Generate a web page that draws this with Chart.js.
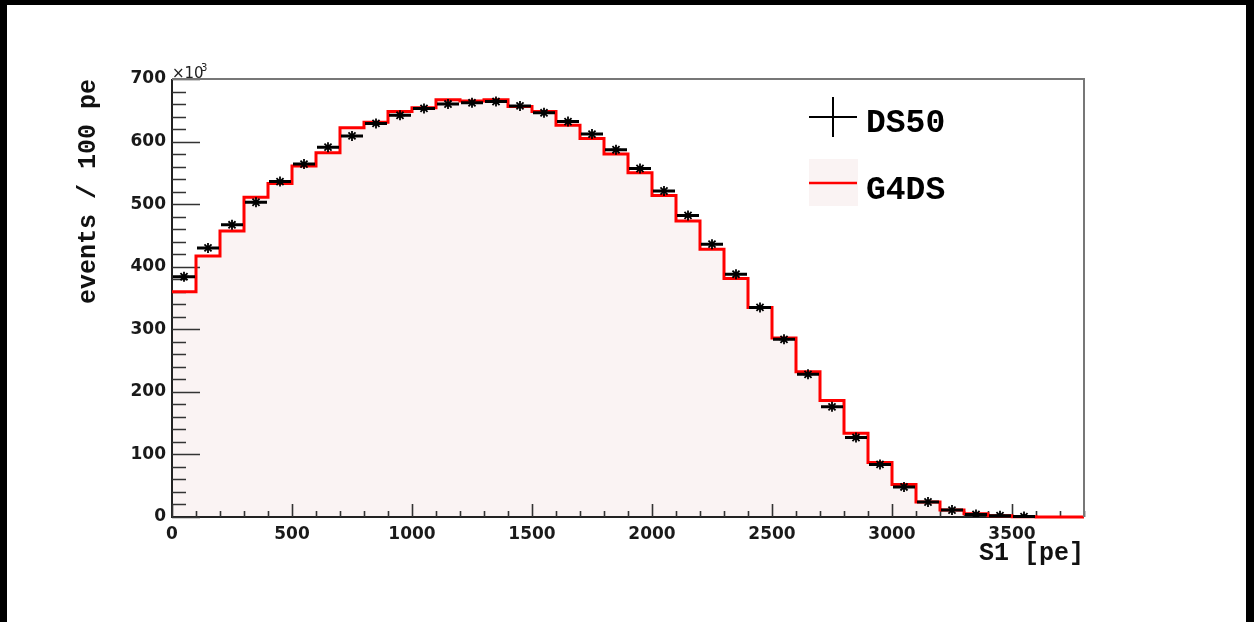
<!DOCTYPE html>
<html>
<head>
<meta charset="utf-8">
<script src="https://cdn.jsdelivr.net/npm/chart.js@4.4.1/dist/chart.umd.min.js"></script>
<style>
  body { margin: 0; background: #000; }
  #hoja { position: absolute; left: 7px; top: 5px; width: 1239px; height: 617px; background: #fff; }
</style>
</head>
<body>
<div id="hoja"><canvas id="ChartS1" width="1239" height="617"></canvas></div>
<script>
// limites inferiores de cada bin (100 pe)
const binInicio = [0, 100, 200, 300, 400, 500, 600, 700, 800, 900,
  1000, 1100, 1200, 1300, 1400, 1500, 1600, 1700, 1800, 1900,
  2000, 2100, 2200, 2300, 2400, 2500, 2600, 2700, 2800, 2900,
  3000, 3100, 3200, 3300, 3400, 3500, 3600, 3700]
const binFin = 3800

// eventos por bin, en miles
const valoresDS50 = [384, 430, 467, 503, 536, 564, 591, 609, 629, 642,
  653, 660, 662, 664, 657, 646, 632, 612, 587, 557,
  521, 482, 436, 388, 335, 284, 228, 176, 127, 84,
  48, 24, 11, 4, 2, 0.6, null, null]
const valoresG4DS = [360, 417, 457, 511, 533, 561, 582, 622, 631, 648,
  654, 667, 665, 667, 656, 648, 626, 605, 580, 550,
  514, 473, 428, 381, 335, 286, 232, 186, 134, 87,
  52, 24, 11, 5, 2, 0.5, 0, 0]

const ticksX = [0, 500, 1000, 1500, 2000, 2500, 3000, 3500]
const ticksY = [0, 100, 200, 300, 400, 500, 600, 700]

const anchoBin = 100

// puntos del histograma (valor constante dentro del bin)
const puntosG4DS = binInicio.map((x, i) => ({ x: x, y: valoresG4DS[i] }))
puntosG4DS.push({ x: binFin, y: valoresG4DS[valoresG4DS.length - 1] })

// puntos DS50 en el centro del bin
const puntosDS50 = []
binInicio.forEach((x, i) => {
  if (valoresDS50[i] !== null) puntosDS50.push({ x: x + anchoBin / 2, y: valoresDS50[i] })
})

// ejes, marcas hacia adentro y marco
const marcoPlugin = {
  id: 'marco',
  beforeDatasetsDraw(chart) {
    const { ctx, chartArea: a, scales: { x, y } } = chart
    ctx.save()
    ctx.strokeStyle = '#222'
    ctx.lineWidth = 2
    ctx.beginPath()
    ctx.moveTo(a.left, a.top)
    ctx.lineTo(a.left, a.bottom)
    ctx.lineTo(a.right, a.bottom)
    ctx.stroke()

    ctx.lineWidth = 1.6
    ctx.strokeStyle = '#333'
    ctx.beginPath()
    for (let v = 0; v <= 700; v += 20) {
      const py = Math.round(y.getPixelForValue(v)) + 0.5
      const largo = v % 100 === 0 ? 28 : 14
      ctx.moveTo(a.left, py)
      ctx.lineTo(a.left + largo, py)
    }
    for (let v = 0; v <= binFin; v += 100) {
      const px = Math.round(x.getPixelForValue(v)) + 0.5
      const largo = v % 500 === 0 ? 13 : 6
      ctx.moveTo(px, a.bottom)
      ctx.lineTo(px, a.bottom - largo)
    }
    ctx.stroke()
    ctx.restore()
  },
  afterDatasetsDraw(chart) {
    const { ctx, chartArea: a, scales: { x, y } } = chart

    // barras de error horizontales DS50
    ctx.save()
    ctx.strokeStyle = '#000'
    ctx.lineWidth = 3
    ctx.beginPath()
    puntosDS50.forEach(p => {
      const py = y.getPixelForValue(p.y)
      ctx.moveTo(x.getPixelForValue(p.x - anchoBin / 2) + 1, py)
      ctx.lineTo(x.getPixelForValue(p.x + anchoBin / 2) - 1, py)
    })
    ctx.stroke()

    // marco superior y derecho
    ctx.strokeStyle = '#777'
    ctx.lineWidth = 2
    ctx.beginPath()
    ctx.moveTo(a.left, a.top)
    ctx.lineTo(a.right, a.top)
    ctx.lineTo(a.right, a.bottom)
    ctx.stroke()

    // factor de escala
    ctx.fillStyle = '#222'
    ctx.textBaseline = 'alphabetic'
    ctx.textAlign = 'left'
    ctx.font = '15px "DejaVu Sans"'
    ctx.fillText('\u00d710', a.left, a.top - 1)
    ctx.font = '10px "DejaVu Sans"'
    ctx.fillText('3', a.left + 29, a.top - 8)

    // leyenda
    ctx.strokeStyle = '#000'
    ctx.lineWidth = 2
    ctx.beginPath()
    ctx.moveTo(802, 112)
    ctx.lineTo(850, 112)
    ctx.moveTo(826, 92)
    ctx.lineTo(826, 132)
    ctx.stroke()

    ctx.fillStyle = '#faf3f3'
    ctx.fillRect(802, 154, 49, 47)
    ctx.strokeStyle = '#ff0000'
    ctx.lineWidth = 2.5
    ctx.beginPath()
    ctx.moveTo(802, 178)
    ctx.lineTo(850, 178)
    ctx.stroke()

    ctx.fillStyle = '#000'
    ctx.font = 'bold 33px "Liberation Mono"'
    ctx.textBaseline = 'middle'
    ctx.fillText('DS50', 859, 119)
    ctx.fillText('G4DS', 859, 186)
    ctx.restore()
  }
}

const ChartS1 = document.getElementById('ChartS1')
let miGrafico = new Chart(ChartS1, {
  type: 'scatter',
  data: {
    datasets: [{
      label: 'DS50',
      data: puntosDS50,
      showLine: false,
      pointStyle: 'star',
      pointRadius: 5,
      pointBorderWidth: 1.8,
      pointBorderColor: '#000',
      pointBackgroundColor: '#000',
      order: 0
    }, {
      label: 'G4DS',
      data: puntosG4DS,
      showLine: true,
      stepped: 'before',
      borderColor: '#ff0000',
      borderWidth: 3,
      pointRadius: 0,
      fill: 'origin',
      backgroundColor: '#faf3f3',
      clip: 4,
      order: 1
    }]
  },
  options: {
    responsive: false,
    animation: false,
    devicePixelRatio: 1,
    layout: { padding: { left: 0, top: 74, right: 162, bottom: 0 } },
    plugins: {
      legend: { display: false },
      tooltip: { enabled: false },
      filler: { drawTime: 'beforeDatasetsDraw' }
    },
    scales: {
      x: {
        type: 'linear',
        min: 0,
        max: binFin,
        grid: { display: false, drawTicks: false },
        border: { display: false },
        afterBuildTicks: (scale) => { scale.ticks = ticksX.map(v => ({ value: v })) },
        afterFit: (scale) => { scale.height = 105 },
        ticks: {
          color: '#1a1a1a',
          padding: 7,
          maxRotation: 0,
          callback: (v) => String(v),
          font: { family: 'DejaVu Sans', size: 17, weight: 'bold' }
        },
        title: {
          display: true,
          text: 'S1 [pe]',
          align: 'end',
          color: '#111',
          padding: { top: 0, bottom: 53 },
          font: { family: 'Liberation Mono', size: 25, weight: 'bold' }
        }
      },
      y: {
        type: 'linear',
        min: 0,
        max: 700,
        grid: { display: false, drawTicks: false },
        border: { display: false },
        afterBuildTicks: (scale) => { scale.ticks = ticksY.map(v => ({ value: v })) },
        afterFit: (scale) => { scale.width = 165 },
        ticks: {
          color: '#1a1a1a',
          padding: 6,
          callback: (v) => String(v),
          font: { family: 'DejaVu Sans', size: 17, weight: 'bold' }
        },
        title: {
          display: true,
          text: 'events / 100 pe',
          align: 'end',
          color: '#111',
          padding: { top: 67, bottom: 0 },
          font: { family: 'Liberation Mono', size: 25, weight: 'bold' }
        }
      }
    }
  },
  plugins: [marcoPlugin]
})
</script>
</body>
</html>
